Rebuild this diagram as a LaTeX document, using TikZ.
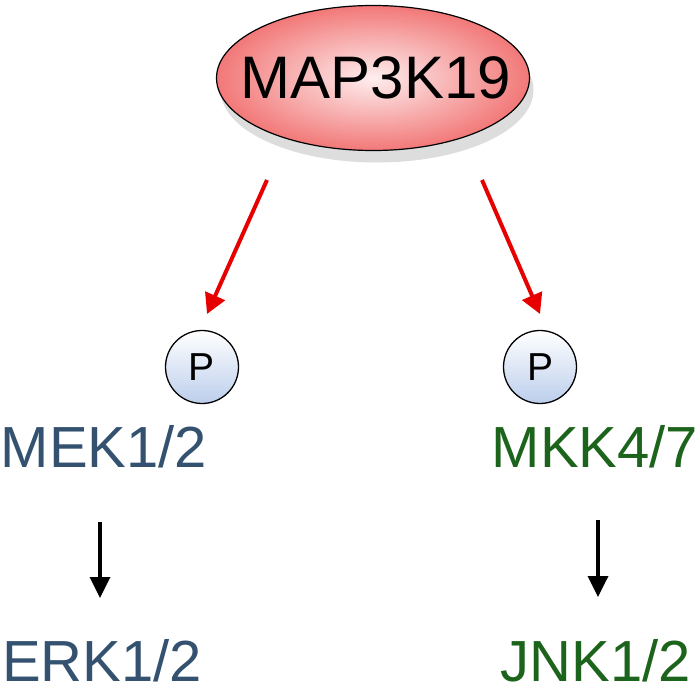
\documentclass[tikz,border=0pt]{standalone}
\usepackage{fontspec}
\setmainfont{Liberation Sans}
\usetikzlibrary{shadows,arrows.meta,shapes.geometric}
\definecolor{salmon1}{RGB}{242,120,120}
\definecolor{pinkin}{RGB}{254,238,238}
\definecolor{pblue}{RGB}{188,206,236}
\definecolor{mekblue}{RGB}{52,82,112}
\definecolor{mkkgreen}{RGB}{28,100,28}
\definecolor{arrred}{RGB}{230,0,0}
\tikzset{
  kinase/.style={ellipse, draw=black, line width=1.2pt, minimum width=313pt, minimum height=145pt,
    inner color=pinkin, outer color=salmon1, inner sep=0pt,
    drop shadow={shadow xshift=4pt, shadow yshift=-12pt, opacity=0.22, fill=black!60}},
  kinasetext/.style={font=\fontsize{60}{72}\selectfont, inner sep=0pt},
  phos/.style={circle, draw=black, line width=1.3pt, minimum size=73pt, inner sep=0pt,
    top color=white, bottom color=pblue, font=\fontsize{39}{46}\selectfont},
  lbl/.style={font=\fontsize{58}{70}\selectfont, inner sep=0pt, anchor=base, text depth=0pt},
  redarr/.style={draw=arrred, line width=4pt, -{Triangle[length=20pt,width=21pt]}},
  blkarr/.style={draw=black, line width=3.5pt, -{Triangle[length=21pt,width=20pt]}}
}
\begin{document}
\begin{tikzpicture}[x=1pt,y=-1pt]
\useasboundingbox (0,0) rectangle (700,687);
\node[kinase] (map) at (373,78) {};
\node[kinasetext] (maptext) at (376,78) {MAP3K19};
\node[phos] (p1) at (202,367) {P};
\node[phos] (p2) at (540,367) {P};
\node[lbl, text=mekblue] (mek) at (104,467) {MEK1/2};
\node[lbl, text=mkkgreen] (mkk) at (595,467) {MKK4/7};
\node[lbl, text=mekblue] (erk) at (102,681) {ERK1/2};
\node[lbl, text=mkkgreen] (jnk) at (596,681) {JNK1/2};
\coordinate (a1s) at (267,180);
\coordinate (a1e) at (207,314);
\coordinate (a2s) at (482,180);
\coordinate (a2e) at (540,314);
\draw[redarr] (a1s) -- (a1e);
\draw[redarr] (a2s) -- (a2e);
\coordinate (b1s) at (100,522);
\coordinate (b1e) at (100,598);
\coordinate (b2s) at (598,520);
\coordinate (b2e) at (598,597);
\draw[blkarr] (b1s) -- (b1e);
\draw[blkarr] (b2s) -- (b2e);
\end{tikzpicture}
\end{document}
